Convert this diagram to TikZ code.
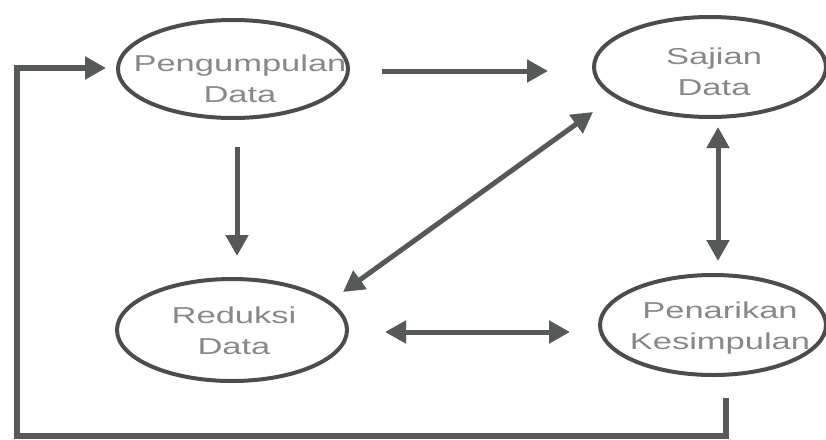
\documentclass[tikz,border=0pt]{standalone}
\usepackage{fontspec}
\newfontfamily\lblfont[FakeStretch=1.5]{Liberation Sans}
\usetikzlibrary{shapes.geometric,arrows.meta,calc}
\definecolor{linegray}{HTML}{555A57}
\definecolor{ellgray}{HTML}{4A4D4B}
\definecolor{txtgray}{HTML}{888888}
\begin{document}
\begin{tikzpicture}[x=1pt,y=-1pt,
  proc/.style={ellipse,draw=ellgray,line width=4pt,minimum width=230pt,minimum height=98pt,inner sep=0pt},
  lbl/.style={font=\lblfont\fontsize{23}{31}\selectfont,text=txtgray,align=center,inner sep=0pt},
  conn/.style={draw=linegray,line width=5pt},
  onetip/.style={-{Triangle[length=21pt,width=22pt]}},
  twotip/.style={{Triangle[length=21pt,width=22pt]}-{Triangle[length=21pt,width=22pt]}}
]
\useasboundingbox (0,0) rectangle (826,439);
% processes
\node[proc] (e1) at (233,69) {};
\node[proc,minimum width=232pt,minimum height=100pt] (e2) at (710,67) {};
\node[proc,minimum height=102pt] (e3) at (232,330) {};
\node[proc,minimum width=226pt,minimum height=100pt] (e4) at (713,325) {};
% labels
\node[lbl] (t1) at (240,79) {Pengumpulan\\Data};
\node[lbl] (t2) at (714,72) {Sajian\\Data};
\node[lbl] (t3) at (234,331) {Reduksi\\Data};
\node[lbl] (t4) at (720,328) {Penarikan\\Kesimpulan};
% connectors
\draw[conn,onetip] ($(e1.east)+(32,2)$) -- ($(e2.west)+(-44,4)$);
\draw[conn,onetip] ($(e1.south)+(4,27)$) -- ($(e3.north)+(5,-21)$);
\draw[conn,twotip] ($(e3.center)+(111,-38)$) -- ($(e2.center)+(-117,45)$);
\draw[conn,twotip] ($(e3.east)+(36,2)$) -- ($(e4.west)+(-28,7)$);
\draw[conn,twotip] ($(e2.south)+(8,8)$) -- ($(e4.north)+(5,-12)$);
% feedback loop
\coordinate (fb1) at (726,398);
\coordinate (fb2) at (726,436);
\coordinate (fb3) at (17,436);
\coordinate (fb4) at (17,68);
\draw[conn,line width=6pt,line join=miter,onetip] (fb1) -- (fb2) -- (fb3) -- (fb4) -- ($(e1.west)+(-10,-1)$);
\end{tikzpicture}
\end{document}
